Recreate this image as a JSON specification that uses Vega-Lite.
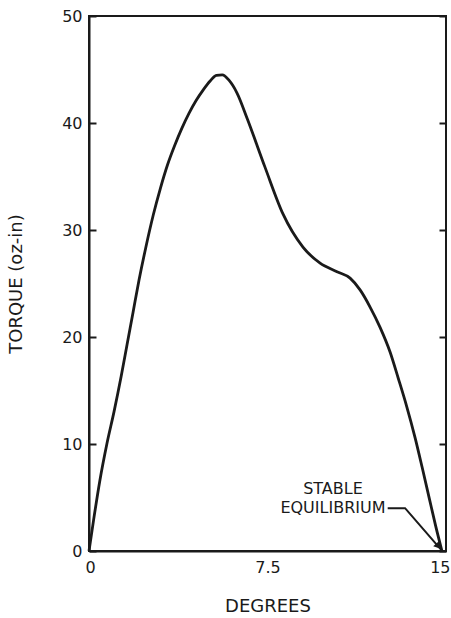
{
  "$schema": "https://vega.github.io/schema/vega-lite/v6.json",
  "autosize": "none",
  "width": 357,
  "height": 535,
  "padding": {"left": 89, "top": 16, "right": 5, "bottom": 67},
  "background": "white",
  "config": {
    "font": "DejaVu Sans",
    "view": {"stroke": "#1a1a1a", "strokeWidth": 2},
    "axis": {"grid": false, "domainColor": "#1a1a1a", "domainWidth": 2, "tickColor": "#1a1a1a", "tickWidth": 2, "labelColor": "#1a1a1a", "titleColor": "#1a1a1a", "labelFontSize": 16, "titleFontSize": 18, "titleFontWeight": "normal", "labelFont": "DejaVu Sans", "titleFont": "DejaVu Sans"}
  },
  "datasets": {
    "curve": [
      {"deg": 0, "torque": 0},
      {"deg": 0.2, "torque": 3.0},
      {"deg": 0.45, "torque": 6.5},
      {"deg": 0.75, "torque": 10.0},
      {"deg": 1.05, "torque": 13.0},
      {"deg": 1.35, "torque": 16.3},
      {"deg": 1.6, "torque": 19.3},
      {"deg": 1.85, "torque": 22.3},
      {"deg": 2.1, "torque": 25.3},
      {"deg": 2.38, "torque": 28.3},
      {"deg": 2.7, "torque": 31.4},
      {"deg": 3.0, "torque": 33.9},
      {"deg": 3.3, "torque": 36.1},
      {"deg": 3.6, "torque": 37.9},
      {"deg": 3.9, "torque": 39.5},
      {"deg": 4.2, "torque": 40.9},
      {"deg": 4.5, "torque": 42.1},
      {"deg": 4.8, "torque": 43.1},
      {"deg": 5.1, "torque": 43.95},
      {"deg": 5.35, "torque": 44.45},
      {"deg": 5.6, "torque": 44.5},
      {"deg": 5.88, "torque": 44.0},
      {"deg": 6.22, "torque": 42.8},
      {"deg": 6.65, "torque": 40.4},
      {"deg": 7.39, "torque": 35.9},
      {"deg": 8.15, "torque": 31.5},
      {"deg": 8.99, "torque": 28.4},
      {"deg": 9.71, "torque": 26.9},
      {"deg": 10.42, "torque": 26.1},
      {"deg": 10.97, "torque": 25.5},
      {"deg": 11.39, "torque": 24.4},
      {"deg": 11.81, "torque": 22.8},
      {"deg": 12.23, "torque": 20.9},
      {"deg": 12.65, "torque": 18.6},
      {"deg": 13.0, "torque": 16.1},
      {"deg": 13.35, "torque": 13.5},
      {"deg": 13.7, "torque": 10.6},
      {"deg": 14.0, "torque": 7.8},
      {"deg": 14.3, "torque": 4.9},
      {"deg": 14.57, "torque": 2.3},
      {"deg": 14.83, "torque": 0}
    ],
    "labels": [
      {"deg": 10.25, "torque": 5.75, "text": "STABLE"},
      {"deg": 10.25, "torque": 4.0, "text": "EQUILIBRIUM"}
    ],
    "leader": [
      {"deg": 12.55, "torque": 4.0, "order": 1},
      {"deg": 13.28, "torque": 4.0, "order": 2},
      {"deg": 14.8, "torque": 0.1, "order": 3}
    ],
    "arrow": [
      {"deg": 14.68, "torque": 0.45}
    ]
  },
  "layer": [
    {
      "data": {"name": "curve"},
      "mark": {"type": "line", "interpolate": "monotone", "color": "#1a1a1a", "strokeWidth": 2.8},
      "encoding": {
        "x": {"field": "deg", "type": "quantitative", "scale": {"domain": [0, 15], "nice": false},
              "axis": {"title": "DEGREES", "values": [0, 7.5, 15], "ticks": false, "labelPadding": 8, "titlePadding": 22, "labelFlush": true, "labelFlushOffset": 4, "format": "~g"}},
        "y": {"field": "torque", "type": "quantitative", "scale": {"domain": [0, 50], "nice": false},
              "axis": {"title": "TORQUE (oz-in)", "values": [0, 10, 20, 30, 40, 50], "tickSize": -7, "labelPadding": 14, "titlePadding": 36, "labelFlush": false}}
      }
    },
    {
      "data": {"name": "leader"},
      "mark": {"type": "line", "color": "#1a1a1a", "strokeWidth": 2},
      "encoding": {
        "x": {"field": "deg", "type": "quantitative"},
        "y": {"field": "torque", "type": "quantitative",
              "axis": {"orient": "right", "title": null, "values": [0, 10, 20, 30, 40, 50], "tickSize": -7, "labels": false, "domain": false}},
        "order": {"field": "order"}
      }
    },
    {
      "data": {"name": "arrow"},
      "mark": {"type": "point", "shape": "triangle-up", "filled": true, "color": "#1a1a1a", "size": 60, "angle": 139, "opacity": 1},
      "encoding": {
        "x": {"field": "deg", "type": "quantitative"},
        "y": {"field": "torque", "type": "quantitative", "axis": null}
      }
    },
    {
      "data": {"name": "labels"},
      "mark": {"type": "text", "fontSize": 16, "color": "#1a1a1a", "align": "center", "baseline": "middle", "font": "DejaVu Sans"},
      "encoding": {
        "x": {"field": "deg", "type": "quantitative"},
        "y": {"field": "torque", "type": "quantitative", "axis": null},
        "text": {"field": "text"}
      }
    }
  ],
  "resolve": {"axis": {"y": "independent"}}
}
